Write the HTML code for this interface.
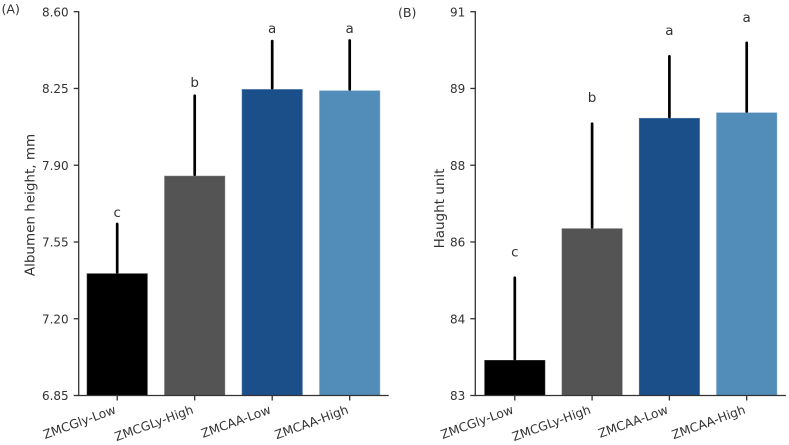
<!DOCTYPE html>
<html>
<head>
<meta charset="utf-8">
<style>
html,body{margin:0;padding:0;background:#fff;width:789px;height:445px;overflow:hidden}
svg{display:block}
text{font-family:"DejaVu Sans","Liberation Sans",sans-serif;fill:#333}
</style>
</head>
<body>
<svg id="chart" width="789" height="445" viewBox="0 0 789 445" xmlns="http://www.w3.org/2000/svg"></svg>
<script>
const categories = ['ZMCGly-Low', 'ZMCGLy-High', 'ZMCAA-Low', 'ZMCAA-High'];
const barColors = ['#000000', '#545454', '#1b4f8a', '#528dba'];
const panelALabel = '(A)';
const panelATitle = 'Albumen height, mm';
const panelAValues = [7.407, 7.852, 8.247, 8.241];
const panelAErrorTops = [7.632, 8.217, 8.466, 8.469];
const panelALetters = ['c', 'b', 'a', 'a'];
const panelALetterLevels = [7.665, 8.257, 8.503, 8.504];
const panelATickValues = [6.85, 7.2, 7.55, 7.9, 8.25, 8.6];
const panelATickLabels = ['6.85', '7.20', '7.55', '7.90', '8.25', '8.60'];
const panelBLabel = '(B)';
const panelBTitle = 'Haught unit';
const panelBValues = [83.74, 86.485, 88.785, 88.9];
const panelBErrorTops = [85.455, 88.665, 90.07, 90.35];
const panelBLetters = ['c', 'b', 'a', 'a'];
const panelBLetterLevels = [85.893, 89.117, 90.514, 90.784];
const panelBTickValues = [83, 84.6, 86.2, 87.8, 89.4, 91];
const panelBTickLabels = ['83', '84', '86', '88', '89', '91'];

const svg = document.getElementById('chart');
const NS = 'http://www.w3.org/2000/svg';
function add(tag, attrs, txt) {
  const el = document.createElementNS(NS, tag);
  for (const k in attrs) el.setAttribute(k, attrs[k]);
  if (txt !== undefined) el.textContent = txt;
  svg.appendChild(el);
  return el;
}
function drawPanel(cfg) {
  const top = 11.7, bottom = 395.5;
  const yMin = cfg.ticks[0], yMax = cfg.ticks[cfg.ticks.length - 1];
  const y = v => bottom - (v - yMin) / (yMax - yMin) * (bottom - top);
  const x = i => cfg.x0 + i * cfg.step;
  const barW = 61;

  const panel = add('text', {x: cfg.labelX, y: cfg.labelY, 'font-size': 12.6});
  panel.textContent = cfg.label;
  
  

  const title = add('text', {transform: 'translate(' + cfg.titleX + ',' + cfg.titleY + ') rotate(-90)', 'text-anchor': 'middle', 'font-size': 13.5});
  title.textContent = cfg.title;
  
  

  categories.forEach((c, i) => {
    const bar = add('rect', {x: x(i) - barW / 2, y: y(cfg.values[i]), width: barW, height: bottom - y(cfg.values[i]), fill: barColors[i], stroke: '#ffffff', 'stroke-opacity': 0.3, 'stroke-width': 1});
    
    

    const err = add('line', {x1: x(i), x2: x(i), y1: y(cfg.values[i]) - 1, y2: y(cfg.errs[i]), stroke: '#000', 'stroke-width': 2.7, 'stroke-linecap': 'round'});
    
    

    const letter = add('text', {x: x(i), y: y(cfg.levels[i]), 'text-anchor': 'middle', 'font-size': 13.5});
    letter.textContent = cfg.letters[i];
    
    

    const tick = add('line', {x1: x(i), x2: x(i), y1: bottom, y2: bottom + 5, stroke: '#333', 'stroke-width': 1.3});
    
    

    const lab = add('text', {transform: 'translate(' + (x(i) - 0.5) + ',413) rotate(-20)', 'text-anchor': 'end', 'font-size': 12.3});
    lab.textContent = c;
    
    
  });

  cfg.ticks.forEach((t, i) => {
    const tick = add('line', {x1: cfg.axisX - 5, x2: cfg.axisX, y1: y(t), y2: y(t), stroke: '#333', 'stroke-width': 1.3});
    
    

    const lab = add('text', {x: cfg.axisX - 10, y: y(t) + 4.6, 'text-anchor': 'end', 'font-size': 12});
    lab.textContent = cfg.tickLabels[i];
    
    
  });

  const ySpine = add('line', {x1: cfg.axisX, x2: cfg.axisX, y1: top - 0.6, y2: bottom + 0.6, stroke: '#333', 'stroke-width': 1.3});
  
  

  const xSpine = add('line', {x1: cfg.axisX, x2: cfg.axisEnd, y1: bottom, y2: bottom, stroke: '#333', 'stroke-width': 1.3});
  
  
}
drawPanel({id: 'panel-a', label: panelALabel, title: panelATitle, values: panelAValues, errs: panelAErrorTops, letters: panelALetters, levels: panelALetterLevels, ticks: panelATickValues, tickLabels: panelATickLabels, x0: 117.2, step: 77.5, axisX: 78.7, axisEnd: 388.7, labelX: 1.5, labelY: 13.5, titleX: 34.5, titleY: 205});
drawPanel({id: 'panel-b', label: panelBLabel, title: panelBTitle, values: panelBValues, errs: panelBErrorTops, letters: panelBLetters, levels: panelBLetterLevels, ticks: panelBTickValues, tickLabels: panelBTickLabels, x0: 514.8, step: 77.3, axisX: 475.3, axisEnd: 786, labelX: 398, labelY: 17, titleX: 444, titleY: 208.5});
</script>
</body>
</html>
